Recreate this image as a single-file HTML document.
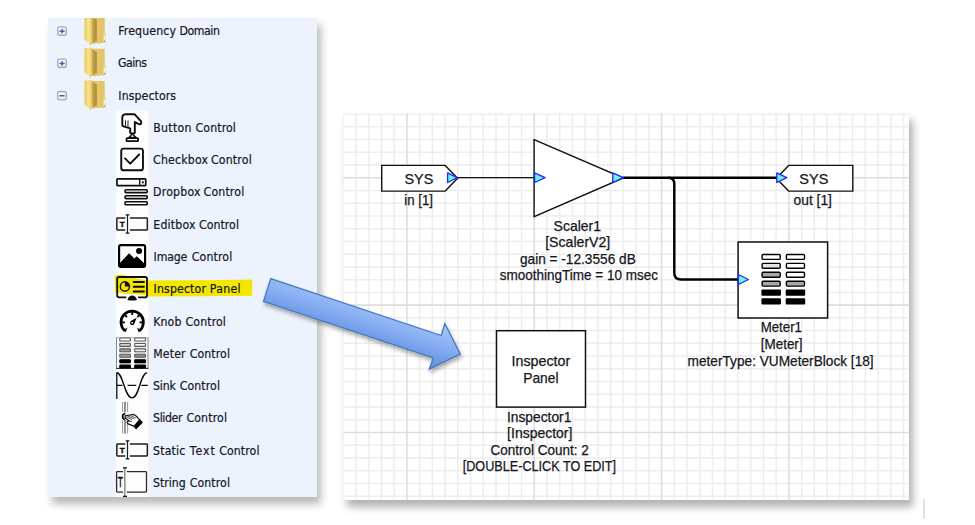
<!DOCTYPE html>
<html lang="en"><head><meta charset="utf-8"><title>Inspector Panel</title>
<style>
html,body{margin:0;padding:0;background:#fff;}
body{width:975px;height:525px;overflow:hidden;position:relative;}
#tree{position:absolute;left:48.2px;top:18.0px;width:268.7px;height:479.0px;background:#EDF3FC;box-shadow:3.5px 6.5px 8px rgba(0,0,0,0.28);}
#diag{position:absolute;left:343.4px;top:113.2px;width:565.9px;height:387.1px;background:#fff;box-shadow:4px 6.5px 8px rgba(0,0,0,0.31);}
svg{position:absolute;left:0;top:0;}
svg text.d{font-family:"Liberation Sans",sans-serif;font-size:14.2px;fill:#16161c;stroke:#16161c;stroke-width:0.25px;}
svg text.t{font-family:"DejaVu Sans Condensed","DejaVu Sans","Liberation Sans",sans-serif;font-stretch:condensed;font-size:12.2px;fill:#15151f;stroke:#15151f;stroke-width:0.2px;}
</style></head><body>
<div id="tree"></div>
<div id="diag"></div>

<svg width="975" height="525" viewBox="0 0 975 525">
<defs>
<clipPath id="tc"><rect x="48.2" y="18" width="268.7" height="479"/></clipPath>
<linearGradient id="eg" x1="0" y1="0" x2="1" y2="1"><stop offset="0" stop-color="#FFFFFF"/><stop offset="1" stop-color="#E6E8EE"/></linearGradient>
<linearGradient id="ff" x1="0" y1="0" x2="1" y2="0"><stop offset="0" stop-color="#E6C766"/><stop offset="0.55" stop-color="#F8E58A"/><stop offset="1" stop-color="#E4C464"/></linearGradient>
<linearGradient id="fd" x1="0" y1="0" x2="1" y2="0"><stop offset="0" stop-color="#D0B158"/><stop offset="0.45" stop-color="#BC9D46"/><stop offset="1" stop-color="#A88933"/></linearGradient>
<linearGradient id="fb" x1="0" y1="0" x2="1" y2="0"><stop offset="0" stop-color="#D2B257"/><stop offset="0.45" stop-color="#E6C76A"/><stop offset="1" stop-color="#E2C266"/></linearGradient>
</defs>
<g clip-path="url(#tc)">
<rect x="116.1" y="110.6" width="32.2" height="386.4" fill="#FDFDFD"/>
<path d="M115 275.3 L123 274.8 L133 277.8 L148.5 280.6 L200 280.2 L252.2 279.4 L252.2 295.7 L200 296.2 L148.5 296.4 L146 295.2 L135 294 L126 294 L115 292 Z" fill="#F3E700"/>
<g transform="translate(84.40,14.45)"><path d="M6.9 2.1 L20.3 2.1 L20.3 28.6 L8 29.2 Z" fill="url(#fb)"/><path d="M7.2 2.6 L12.4 5.4 L12.4 26.6 L10 27.4 L8 29 Z" fill="url(#fd)"/><path d="M0 1.7 L6.9 0.9 L7.6 2.8 L7.6 29.2 L6.2 31 L0 25.2 Z" fill="url(#ff)"/><rect x="18.6" y="18.3" width="2.8" height="10.2" rx="0.6" fill="#EAD493"/><rect x="19.4" y="21" width="1.3" height="5" fill="#FBF6E2"/><rect x="19.5" y="26.3" width="1.1" height="1.1" fill="#5B8FD8"/></g>
<rect x="57.7" y="26.95" width="8.6" height="8.3" rx="2" fill="url(#eg)" stroke="#A9A9AE" stroke-width="1.3"/>
<path d="M59.4 31.20 H64.6" stroke="#4660AE" stroke-width="1.4"/>
<path d="M62 28.85 V33.55" stroke="#4660AE" stroke-width="1.4"/>
<g transform="translate(84.40,46.72)"><path d="M6.9 2.1 L20.3 2.1 L20.3 28.6 L8 29.2 Z" fill="url(#fb)"/><path d="M7.2 2.6 L12.4 5.4 L12.4 26.6 L10 27.4 L8 29 Z" fill="url(#fd)"/><path d="M0 1.7 L6.9 0.9 L7.6 2.8 L7.6 29.2 L6.2 31 L0 25.2 Z" fill="url(#ff)"/><rect x="18.6" y="18.3" width="2.8" height="10.2" rx="0.6" fill="#EAD493"/><rect x="19.4" y="21" width="1.3" height="5" fill="#FBF6E2"/><rect x="19.5" y="26.3" width="1.1" height="1.1" fill="#5B8FD8"/></g>
<rect x="57.7" y="59.22" width="8.6" height="8.3" rx="2" fill="url(#eg)" stroke="#A9A9AE" stroke-width="1.3"/>
<path d="M59.4 63.47 H64.6" stroke="#4660AE" stroke-width="1.4"/>
<path d="M62 61.12 V65.82" stroke="#4660AE" stroke-width="1.4"/>
<g transform="translate(84.40,78.99)"><path d="M6.9 2.1 L20.3 2.1 L20.3 28.6 L8 29.2 Z" fill="url(#fb)"/><path d="M7.2 2.6 L12.4 5.4 L12.4 26.6 L10 27.4 L8 29 Z" fill="url(#fd)"/><path d="M0 1.7 L6.9 0.9 L7.6 2.8 L7.6 29.2 L6.2 31 L0 25.2 Z" fill="url(#ff)"/><rect x="18.6" y="18.3" width="2.8" height="10.2" rx="0.6" fill="#EAD493"/><rect x="19.4" y="21" width="1.3" height="5" fill="#FBF6E2"/><rect x="19.5" y="26.3" width="1.1" height="1.1" fill="#5B8FD8"/></g>
<rect x="57.7" y="91.49" width="8.6" height="8.3" rx="2" fill="url(#eg)" stroke="#A9A9AE" stroke-width="1.3"/>
<path d="M59.4 95.74 H64.6" stroke="#4660AE" stroke-width="1.4"/>
<g transform="translate(116.10,111.16)"><path d="M9.3 3.1 L18.6 3.1 L25 10.3 Q25.6 12.6 24 13.2 L21.6 12.5 L18.7 10.8 L18.7 21.6 Q16.4 23.6 14.1 21.6 L14.1 17.3 L7.4 15.3 Q6.2 14.8 6.2 13.5 L6.2 6 Q6.4 3.4 9.3 3.1 Z" fill="#fff" stroke="#0d0d0d" stroke-width="1.9" stroke-linejoin="round"/><path d="M9.45 9.2 V15.2 M11.9 9.2 V15.9" stroke="#0d0d0d" stroke-width="0.95" fill="none"/><path d="M16.4 22.8 L12.8 26.3 L20 26.3 Z" fill="#fff" stroke="#0d0d0d" stroke-width="1.3" stroke-linejoin="round"/><rect x="10.4" y="26.9" width="11.6" height="3.1" rx="0.6" fill="#fff" stroke="#0d0d0d" stroke-width="1.8"/></g>
<g transform="translate(116.10,143.43)"><rect x="5.15" y="5.15" width="21.7" height="21.7" rx="2.4" fill="#fff" stroke="#0d0d0d" stroke-width="1.9"/><path d="M8.9 15 L14.1 20.2 L23.1 11.1" fill="none" stroke="#0d0d0d" stroke-width="1.9" stroke-linecap="round" stroke-linejoin="round"/></g>
<g transform="translate(116.10,175.70)"><rect x="0.85" y="3.1" width="28.8" height="6.9" rx="0.8" fill="#fff" stroke="#0d0d0d" stroke-width="1.7"/><path d="M23.6 3.1 V10" stroke="#0d0d0d" stroke-width="1.4"/><rect x="25.8" y="5.7" width="1.9" height="1.9" fill="#0d0d0d"/><rect x="9" y="14" width="22.1" height="2.9" rx="0.8" fill="#fff" stroke="#0d0d0d" stroke-width="1.6"/><rect x="9" y="20" width="22.1" height="2.9" rx="0.8" fill="#fff" stroke="#0d0d0d" stroke-width="1.6"/><rect x="9" y="26.1" width="22.1" height="2.9" rx="0.8" fill="#fff" stroke="#0d0d0d" stroke-width="1.6"/></g>
<g transform="translate(116.10,207.97)"><path d="M9.2 10.1 H1.4 Q0.75 10.1 0.75 10.8 V21.4 Q0.75 22.1 1.4 22.1 H9.2 M13.8 10.1 H30.6 Q31.25 10.1 31.25 10.8 V21.4 Q31.25 22.1 30.6 22.1 H13.8" fill="none" stroke="#1c1c1c" stroke-width="1.5"/><path d="M11.4 7 V25" stroke="#1c1c1c" stroke-width="1.2" fill="none"/><path d="M9.6 7 H13.2 M9.6 25.1 H13.2" stroke="#0d0d0d" stroke-width="1.3" fill="none"/><text x="6" y="19" font-family="Liberation Sans, sans-serif" font-weight="bold" font-size="8" text-anchor="middle" fill="#0d0d0d" stroke="#0d0d0d" stroke-width="0.45">T</text></g>
<g transform="translate(116.10,240.24)"><rect x="3" y="4.9" width="26" height="21.8" rx="1.6" fill="#fff" stroke="#000" stroke-width="2.2"/><path d="M3.4 26 L3.4 23.2 L13 13 L18.3 18.3 L20.7 16 L28.6 23.6 L28.6 26 Z" fill="#000"/><circle cx="23" cy="10.8" r="3.05" fill="#000"/></g>
<g transform="translate(116.10,272.51)"><path d="M10.2 24.9 H3 Q1.1 24.9 1.1 23 V6.4 Q1.1 4.5 3 4.5 H29 Q30.9 4.5 30.9 6.4 V23 Q30.9 24.9 29 24.9 H22" fill="none" stroke="#0d0d0d" stroke-width="1.8"/><circle cx="8.8" cy="13.9" r="4.6" fill="none" stroke="#0d0d0d" stroke-width="1.4"/><path d="M8.8 13.9 V9.6 A4.3 4.3 0 0 1 13.1 13.9 Z" fill="#0d0d0d"/><path d="M17.6 9.4 H27.8 M17.6 14.2 H27.8 M17.6 18.9 H27.8" stroke="#0d0d0d" stroke-width="2" stroke-linecap="round"/><path d="M11.4 27.5 C12.2 21.4 20 21.4 20.8 27.5 Q16.1 28.6 11.4 27.5 Z" fill="#0d0d0d"/></g>
<g transform="translate(116.10,304.78)"><path d="M8.75 25.95 A11.2 11.2 0 1 1 23.45 25.95" fill="none" stroke="#000" stroke-width="2.7"/><path d="M7.15 25.75 L11.35 22.75 L9.65 27.55 Z" fill="#000"/><path d="M25.05 25.75 L20.85 22.75 L22.55 27.55 Z" fill="#000"/><path d="M8.80 17.50 L5.90 17.50 M10.94 12.34 L8.89 10.29 M16.10 10.20 L16.10 7.30 M21.26 12.34 L23.31 10.29 M23.40 17.50 L26.30 17.50 " stroke="#000" stroke-width="1.8" fill="none"/><path d="M20.6 12.9 L18 19.5 Q16.2 21.2 14.5 19.6 Q13 17.8 14.7 16.2 Z" fill="#000"/><circle cx="16.1" cy="18" r="0.9" fill="#fff"/></g>
<g transform="translate(116.10,337.05)"><rect x="0" y="0.3" width="32.3" height="31.3" fill="#fff"/><rect x="2.6" y="0.3" width="12.8" height="31.3" fill="#ECECEC"/><rect x="17.5" y="0.3" width="13" height="31.3" fill="#ECECEC"/><path d="M0.4 0.3 V31.6 M31.9 0.3 V31.6" stroke="#777" stroke-width="0.9"/><path d="M0 0.6 H32.3" stroke="#999" stroke-width="0.7"/><path d="M0 31.3 H32.3" stroke="#111" stroke-width="1"/><rect x="3.7" y="1.00" width="10.6" height="2.9" rx="0.7" fill="#fff" stroke="#5a5a5a" stroke-width="1.1"/><rect x="18.6" y="1.00" width="10.8" height="2.9" rx="0.7" fill="#fff" stroke="#5a5a5a" stroke-width="1.1"/><rect x="3.7" y="6.42" width="10.6" height="2.9" rx="0.7" fill="#cfcfcf" stroke="#5a5a5a" stroke-width="1.1"/><rect x="18.6" y="6.42" width="10.8" height="2.9" rx="0.7" fill="#f4f4f4" stroke="#5a5a5a" stroke-width="1.1"/><rect x="3.7" y="11.84" width="10.6" height="2.9" rx="0.7" fill="#9c9c9c" stroke="#5a5a5a" stroke-width="1.1"/><rect x="18.6" y="11.84" width="10.8" height="2.9" rx="0.7" fill="#f4f4f4" stroke="#5a5a5a" stroke-width="1.1"/><rect x="3.7" y="17.26" width="10.6" height="2.9" rx="0.7" fill="#9c9c9c" stroke="#5a5a5a" stroke-width="1.1"/><rect x="18.6" y="17.26" width="10.8" height="2.9" rx="0.7" fill="#8e8e8e" stroke="#5a5a5a" stroke-width="1.1"/><rect x="3.7" y="22.68" width="10.6" height="2.9" rx="0.7" fill="#000" stroke="#000" stroke-width="1.1"/><rect x="18.6" y="22.68" width="10.8" height="2.9" rx="0.7" fill="#000" stroke="#000" stroke-width="1.1"/><rect x="3.7" y="28.10" width="10.6" height="2.9" rx="0.7" fill="#000" stroke="#000" stroke-width="1.1"/><rect x="18.6" y="28.10" width="10.8" height="2.9" rx="0.7" fill="#000" stroke="#000" stroke-width="1.1"/></g>
<g transform="translate(116.10,369.32)"><path d="M0.7 3.2 V29.6" stroke="#0d0d0d" stroke-width="1.3"/><path d="M0.7 16 H6.4 M11.5 16 H20.2 M25.2 16 H31.7" stroke="#0d0d0d" stroke-width="1.3"/><path d="M0.7 3.4 C7 3.4 8.5 28.6 15.9 28.6 C23.3 28.6 24 3.8 31 3.6" fill="none" stroke="#0d0d0d" stroke-width="1.4"/></g>
<g transform="translate(116.10,401.59)"><path d="M6.5 0.4 V10.4 M11.5 0.4 V10.4 M6.5 18.6 V31.8 M11.5 18.6 V31.8" stroke="#8c8c8c" stroke-width="0.9"/><path d="M8.9 0.2 V10.6 M8.9 18.4 V31.9" stroke="#505050" stroke-width="1.2"/><path d="M9.3 11.9 Q6.3 12.3 6.5 15 Q6.6 17.6 8.8 18" stroke="#000" stroke-width="1.7" fill="none"/><path d="M9.0 14.2 L13.9 13.4 L17.6 12.8 L20.0 14.4 L26.1 20.8 L20.0 26.9 L18.2 24.8 L11.5 22.0 L10.9 20.5 L13.0 19.3 L9.7 16.9 Q8.4 15.6 9.0 14.2 Z" fill="#fff" stroke="#111" stroke-width="1.2" stroke-linejoin="round"/><path d="M22.8 18.2 L26.3 21 L20.0 27.1 L17.9 24 Z" fill="#000"/><path d="M10 15.2 L16 18 M11.5 14.4 L18 17.2 M14 13.8 L19.6 16.4 M13 19.3 L16 20" stroke="#444" stroke-width="0.9" fill="none"/></g>
<g transform="translate(116.10,433.86)"><path d="M9.2 10.1 H1.4 Q0.75 10.1 0.75 10.8 V21.4 Q0.75 22.1 1.4 22.1 H9.2 M13.8 10.1 H30.6 Q31.25 10.1 31.25 10.8 V21.4 Q31.25 22.1 30.6 22.1 H13.8" fill="none" stroke="#1c1c1c" stroke-width="1.5"/><path d="M11.4 7 V25" stroke="#1c1c1c" stroke-width="1.2" fill="none"/><path d="M9.6 7 H13.2 M9.6 25.1 H13.2" stroke="#0d0d0d" stroke-width="1.3" fill="none"/><text x="6" y="19" font-family="Liberation Sans, sans-serif" font-weight="bold" font-size="8" text-anchor="middle" fill="#0d0d0d" stroke="#0d0d0d" stroke-width="0.45">T</text></g>
<g transform="translate(116.10,466.13)"><path d="M7 5.5 H1.4 Q0.5 5.5 0.5 6.3 V25.2 Q0.5 26 1.4 26 H7 M10.8 5.5 H29.6 Q30.4 5.5 30.4 6.3 V25.2 Q30.4 26 29.6 26 H10.8" fill="none" stroke="#2a2a2a" stroke-width="1.3"/><path d="M8.8 1.6 V30.2" stroke="#555" stroke-width="1" fill="none"/><path d="M6.9 1.7 H10.9 M6.9 30.2 H10.9" stroke="#0d0d0d" stroke-width="1.3" fill="none"/><text transform="translate(4.3,21.2) scale(0.56,1)" font-family="Liberation Sans, sans-serif" font-size="15.2" text-anchor="middle" fill="#0d0d0d" stroke="#0d0d0d" stroke-width="0.5">T</text></g>
</g>
<text class="t" y="35.1"><tspan x="118.16" textLength="57.87" lengthAdjust="spacing">Frequency</tspan> <tspan x="179.51" textLength="40.42" lengthAdjust="spacing">Domain</tspan></text>
<text class="t" x="118.09" y="67.37" textLength="28.77" lengthAdjust="spacing">Gains</text>
<text class="t" x="118.37" y="99.64" textLength="57.66" lengthAdjust="spacing">Inspectors</text>
<text class="t" y="131.91"><tspan x="153.26" textLength="38.27" lengthAdjust="spacing">Button</tspan> <tspan x="195.59" textLength="40.3" lengthAdjust="spacing">Control</tspan></text>
<text class="t" y="164.18"><tspan x="153.09" textLength="54.89" lengthAdjust="spacing">Checkbox</tspan> <tspan x="210.89" textLength="40.82" lengthAdjust="spacing">Control</tspan></text>
<text class="t" y="196.45"><tspan x="152.96" textLength="47.64" lengthAdjust="spacing">Dropbox</tspan> <tspan x="203.59" textLength="40.6" lengthAdjust="spacing">Control</tspan></text>
<text class="t" y="228.72"><tspan x="153.26" textLength="42.14" lengthAdjust="spacing">Editbox</tspan> <tspan x="198.89" textLength="40.05" lengthAdjust="spacing">Control</tspan></text>
<text class="t" y="260.99"><tspan x="153.57" textLength="33.75" lengthAdjust="spacing">Image</tspan> <tspan x="191.79" textLength="40.43" lengthAdjust="spacing">Control</tspan></text>
<text class="t" y="293.26"><tspan x="153.57" textLength="52.33" lengthAdjust="spacing">Inspector</tspan> <tspan x="209.86" textLength="30.64" lengthAdjust="spacing">Panel</tspan></text>
<text class="t" y="325.53"><tspan x="153.26" textLength="28.09" lengthAdjust="spacing">Knob</tspan> <tspan x="185.59" textLength="40.3" lengthAdjust="spacing">Control</tspan></text>
<text class="t" y="357.8"><tspan x="153.27" textLength="32.29" lengthAdjust="spacing">Meter</tspan> <tspan x="189.69" textLength="40.3" lengthAdjust="spacing">Control</tspan></text>
<text class="t" y="390.07"><tspan x="153.06" textLength="22.73" lengthAdjust="spacing">Sink</tspan> <tspan x="179.69" textLength="40.3" lengthAdjust="spacing">Control</tspan></text>
<text class="t" y="422.34"><tspan x="153.06" textLength="29.42" lengthAdjust="spacing">Slider</tspan> <tspan x="186.39" textLength="40.56" lengthAdjust="spacing">Control</tspan></text>
<text class="t" y="454.61"><tspan x="153.06" textLength="32.11" lengthAdjust="spacing">Static</tspan> <tspan x="189.73" textLength="25.12" lengthAdjust="spacing">Text</tspan> <tspan x="219.19" textLength="40.3" lengthAdjust="spacing">Control</tspan></text>
<text class="t" y="486.88"><tspan x="153.06" textLength="32.55" lengthAdjust="spacing">String</tspan> <tspan x="189.69" textLength="40.3" lengthAdjust="spacing">Control</tspan></text>
</svg>
<svg width="975" height="525" viewBox="0 0 975 525">
<defs>
<clipPath id="dc"><rect x="343.4" y="113.2" width="565.9" height="387.1"/></clipPath>
<linearGradient id="ag" gradientUnits="userSpaceOnUse" x1="444.6" y1="323.4" x2="429.4" y2="369.4">
<stop offset="0" stop-color="#A6C7FD"/><stop offset="0.5" stop-color="#84ACF0"/><stop offset="1" stop-color="#5C8CDA"/></linearGradient>
<filter id="ash" x="-10%" y="-20%" width="120%" height="150%"><feGaussianBlur in="SourceAlpha" stdDeviation="2"/><feOffset dx="1" dy="2.5"/><feComponentTransfer><feFuncA type="linear" slope="0.35"/></feComponentTransfer><feMerge><feMergeNode/><feMergeNode in="SourceGraphic"/></feMerge></filter>
</defs>
<g clip-path="url(#dc)">
<path d="M343.23 113 V501 M355.97 113 V501 M368.70 113 V501 M381.43 113 V501 M394.17 113 V501 M419.63 113 V501 M432.37 113 V501 M445.10 113 V501 M457.83 113 V501 M470.56 113 V501 M483.30 113 V501 M496.03 113 V501 M508.76 113 V501 M521.50 113 V501 M546.96 113 V501 M559.70 113 V501 M572.43 113 V501 M585.16 113 V501 M597.89 113 V501 M610.63 113 V501 M623.36 113 V501 M636.09 113 V501 M648.83 113 V501 M674.29 113 V501 M687.03 113 V501 M699.76 113 V501 M712.49 113 V501 M725.22 113 V501 M737.96 113 V501 M750.69 113 V501 M763.42 113 V501 M776.16 113 V501 M801.62 113 V501 M814.36 113 V501 M827.09 113 V501 M839.82 113 V501 M852.55 113 V501 M865.29 113 V501 M878.02 113 V501 M890.75 113 V501 M903.49 113 V501 M343 114.14 H910 M343 126.87 H910 M343 139.60 H910 M343 152.33 H910 M343 165.07 H910 M343 190.53 H910 M343 203.27 H910 M343 216.00 H910 M343 228.73 H910 M343 241.47 H910 M343 254.20 H910 M343 266.93 H910 M343 279.66 H910 M343 292.40 H910 M343 317.86 H910 M343 330.60 H910 M343 343.33 H910 M343 356.06 H910 M343 368.80 H910 M343 381.53 H910 M343 394.26 H910 M343 406.99 H910 M343 419.73 H910 M343 445.19 H910 M343 457.93 H910 M343 470.66 H910 M343 483.39 H910 M343 496.13 H910" stroke="#EDEDED" stroke-width="1.5" fill="none"/>
<path d="M406.90 113 V501 M534.23 113 V501 M661.56 113 V501 M788.89 113 V501 M343 177.80 H910 M343 305.13 H910 M343 432.46 H910" stroke="#DDDDDD" stroke-width="1.6" fill="none"/>
</g>
<path d="M457 177.7 H534.5" stroke="#111" stroke-width="1.3" fill="none"/>
<path d="M623 177.7 H777" stroke="#000" stroke-width="2.45" fill="none"/>
<path d="M668 177.7 Q674.3 177.7 674.3 183.7 V273 Q674.3 279.4 681 279.4 H739" stroke="#000" stroke-width="2.45" fill="none"/>
<path d="M381.7 165.4 H445.2 L457.6 178.2 L445.2 191.1 H381.7 Z" fill="#fff" stroke="#111" stroke-width="1.4"/>
<path d="M447.6 172.9 L457.2 177.7 L447.6 182.5 Z" fill="#74F2EE" stroke="#1C2CFF" stroke-width="1.35" stroke-linejoin="round"/>
<path d="M534.1 139.7 L623.3 178.0 L534.1 216.6 Z" fill="#fff" stroke="#111" stroke-width="1.4"/>
<path d="M534.6 172.9 L545.1 177.7 L534.6 182.5 Z" fill="#74F2EE" stroke="#1C2CFF" stroke-width="1.35" stroke-linejoin="round"/>
<path d="M612.8 172.9 L623.2 177.7 L612.8 182.5 Z" fill="#74F2EE" stroke="#1C2CFF" stroke-width="1.35" stroke-linejoin="round"/>
<path d="M852.8 165.4 H788.7 L776.3 178.2 L788.7 191.1 H852.8 Z" fill="#fff" stroke="#111" stroke-width="1.4"/>
<path d="M776.8 172.9 L786.8 177.7 L776.8 182.5 Z" fill="#74F2EE" stroke="#1C2CFF" stroke-width="1.35" stroke-linejoin="round"/>
<rect x="738.1" y="242" width="89.5" height="76" fill="#fff" stroke="#111" stroke-width="1.5"/>
<path d="M738.4 274.5 L748.4 279.5 L738.4 284.5 Z" fill="#74F2EE" stroke="#1C2CFF" stroke-width="1.35" stroke-linejoin="round"/>
<rect x="762.1" y="254.5" width="18.1" height="4.9" rx="1.0" fill="#fff" stroke="#000" stroke-width="1.4"/>
<rect x="786.4" y="254.5" width="18.1" height="4.9" rx="1.0" fill="#fff" stroke="#000" stroke-width="1.4"/>
<rect x="762.1" y="263.4" width="18.1" height="4.9" rx="1.0" fill="#e4e4e4" stroke="#000" stroke-width="1.4"/>
<rect x="786.4" y="263.4" width="18.1" height="4.9" rx="1.0" fill="#fff" stroke="#000" stroke-width="1.4"/>
<rect x="762.1" y="272.3" width="18.1" height="4.9" rx="1.0" fill="#a8a8a8" stroke="#000" stroke-width="1.4"/>
<rect x="786.4" y="272.3" width="18.1" height="4.9" rx="1.0" fill="#fff" stroke="#000" stroke-width="1.4"/>
<rect x="762.1" y="281.2" width="18.1" height="4.9" rx="1.0" fill="#a8a8a8" stroke="#000" stroke-width="1.4"/>
<rect x="786.4" y="281.2" width="18.1" height="4.9" rx="1.0" fill="#a8a8a8" stroke="#000" stroke-width="1.4"/>
<rect x="762.1" y="290.1" width="18.1" height="4.9" rx="0.3" fill="#000" stroke="#000" stroke-width="1.4"/>
<rect x="786.4" y="290.1" width="18.1" height="4.9" rx="0.3" fill="#000" stroke="#000" stroke-width="1.4"/>
<rect x="762.1" y="299.0" width="18.1" height="4.9" rx="0.3" fill="#000" stroke="#000" stroke-width="1.4"/>
<rect x="786.4" y="299.0" width="18.1" height="4.9" rx="0.3" fill="#000" stroke="#000" stroke-width="1.4"/>
<rect x="496.5" y="330.7" width="89" height="76.4" fill="#fff" stroke="#111" stroke-width="1.5"/>
<text class="d" x="404.5" y="183.8" textLength="28.87" lengthAdjust="spacingAndGlyphs">SYS</text>
<text class="d" x="404.31" y="204.5" textLength="28.73" lengthAdjust="spacingAndGlyphs">in [1]</text>
<text class="d" x="799.29" y="183.8" textLength="29.03" lengthAdjust="spacingAndGlyphs">SYS</text>
<text class="d" x="793.55" y="204.5" textLength="38.4" lengthAdjust="spacingAndGlyphs">out [1]</text>
<text class="d" x="553.56" y="230.7" textLength="47.46" lengthAdjust="spacingAndGlyphs">Scaler1</text>
<text class="d" x="545.21" y="247.1" textLength="65.04" lengthAdjust="spacingAndGlyphs">[ScalerV2]</text>
<text class="d" x="519.95" y="263.6" textLength="115.81" lengthAdjust="spacingAndGlyphs">gain = -12.3556 dB</text>
<text class="d" x="499.67" y="280.0" textLength="158.27" lengthAdjust="spacingAndGlyphs">smoothingTime = 10 msec</text>
<text class="d" x="760.71" y="332.4" textLength="41.22" lengthAdjust="spacingAndGlyphs">Meter1</text>
<text class="d" x="760.75" y="349.1" textLength="41.81" lengthAdjust="spacingAndGlyphs">[Meter]</text>
<text class="d" x="687.58" y="365.7" textLength="186.09" lengthAdjust="spacingAndGlyphs">meterType: VUMeterBlock [18]</text>
<text class="d" x="511.5" y="365.6" textLength="58.73" lengthAdjust="spacingAndGlyphs">Inspector</text>
<text class="d" x="523.24" y="383.3" textLength="35.22" lengthAdjust="spacingAndGlyphs">Panel</text>
<text class="d" x="507.0" y="421.6" textLength="64.31" lengthAdjust="spacingAndGlyphs">Inspector1</text>
<text class="d" x="507.11" y="438.2" textLength="65.31" lengthAdjust="spacingAndGlyphs">[Inspector]</text>
<text class="d" x="490.39" y="454.6" textLength="98.38" lengthAdjust="spacingAndGlyphs">Control Count: 2</text>
<text class="d" x="462.71" y="471.1" textLength="153.36" lengthAdjust="spacingAndGlyphs">[DOUBLE-CLICK TO EDIT]</text>
<path d="M270.7 278.7 L441.3 335.5 L444.8 323.5 L460.3 353.9 L429.3 369.3 L433.3 357.9 L263.5 301.3 Z" fill="url(#ag)" stroke="#4678BE" stroke-width="1.3" stroke-linejoin="miter" filter="url(#ash)"/>
<path d="M923.9 499.2 V518.7" stroke="#CFCFCF" stroke-width="1.2"/>
</svg>
</body></html>
